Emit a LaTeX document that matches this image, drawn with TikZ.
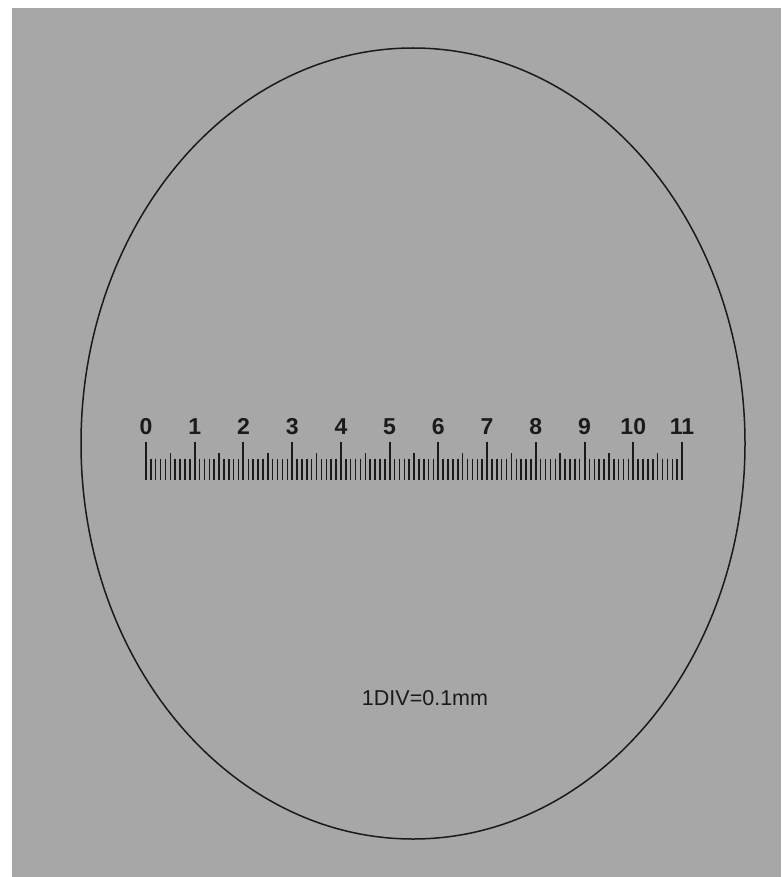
\documentclass[tikz,border=0pt]{standalone}
\usepackage{fontspec}
\setsansfont{Liberation Sans}
\definecolor{paper}{HTML}{A7A7A7}
\definecolor{ink}{HTML}{1A1A1A}
\tikzset{
  reticle/.style={draw=ink,line width=1.5pt},
  major tick/.style={draw=ink,line width=2pt},
  minor tick/.style={draw=ink,line width=1.5pt},
  scale num/.style={font=\sffamily\bfseries\fontsize{23}{26}\selectfont,text=ink,anchor=base,inner sep=0pt},
  div text/.style={font=\sffamily\fontsize{21.5}{24}\selectfont,text=ink,anchor=base,inner sep=0pt}
}

\begin{document}
\begin{tikzpicture}[x=1pt,y=-1pt]
  \useasboundingbox (0,0) rectangle (781,877);
  \fill[white] (0,0) rectangle (781,877);
  \fill[paper] (11.5,7.7) rectangle (781,877);

  % Field of view.
  \draw[reticle] (413,443.5) ellipse [x radius=332,y radius=395.5];

  % Scale: 110 divisions, a number every ten.
  \foreach \i in {0,...,110}{
    \pgfmathsetmacro{\tx}{146+\i*4.8727}
    \pgfmathtruncatemacro{\rem}{mod(\i,10)}
    \pgfmathtruncatemacro{\half}{mod(\i,5)}
    \ifnum\rem=0
      \draw[major tick] (\tx,442) -- (\tx,480);
    \else\ifnum\half=0
      \draw[minor tick] (\tx,453) -- (\tx,480);
    \else
      \draw[minor tick] (\tx,458.5) -- (\tx,480);
    \fi\fi
  }
  \foreach \n in {0,...,11}{
    \node[scale num] (num\n) at (146+\n*48.727,434.5) {\n};
  }

  \node[div text] (divlabel) at (425,705) {1DIV=0.1mm};
\end{tikzpicture}
\end{document}
